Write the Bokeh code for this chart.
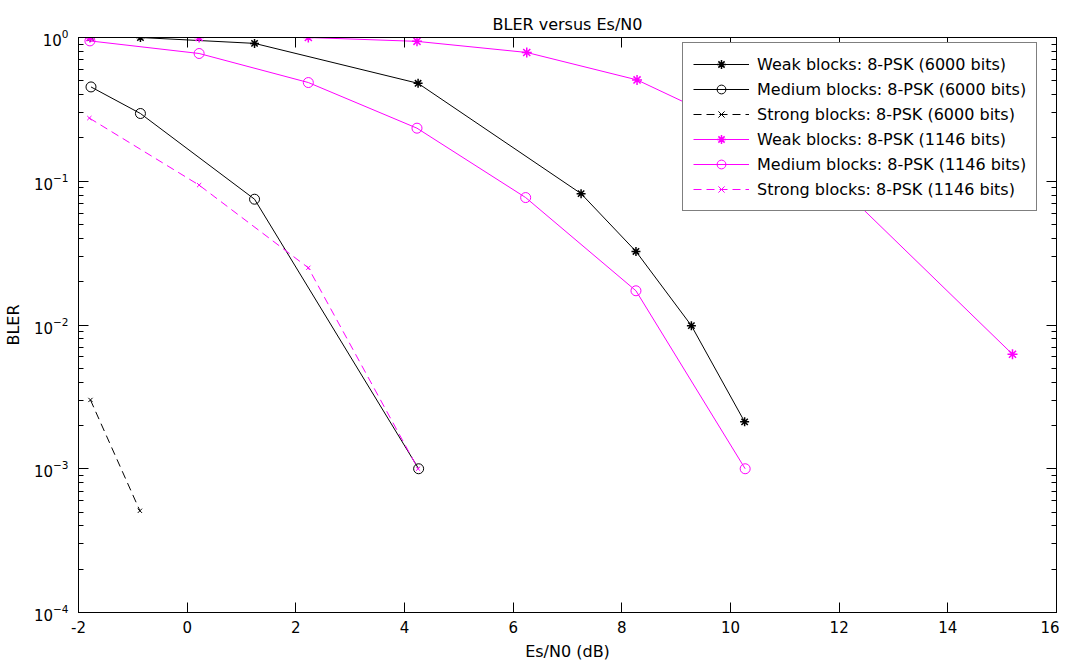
from bokeh.plotting import figure
from bokeh.models import (LinearAxis, LogAxis, SingleIntervalTicker, LogTicker, Legend,
                          LegendItem, CustomJSTickFormatter)
from bokeh.embed import file_html
from bokeh.resources import INLINE

# ---- data ----
x_weak_6000 = [-1.78, -0.86, 1.24, 4.25, 7.25, 8.26, 9.28, 10.26]
y_weak_6000 = [1.0, 1.0, 0.91, 0.48, 0.082, 0.0325, 0.0099, 0.00212]
x_med_6000 = [-1.77, -0.86, 1.24, 4.26]
y_med_6000 = [0.453, 0.296, 0.075, 0.001]
x_str_6000 = [-1.78, -0.87]
y_str_6000 = [0.00301, 0.00051]
x_weak_1146 = [-1.79, 0.22, 2.23, 4.23, 6.25, 8.28, 10.25, 12.25, 15.19]
y_weak_1146 = [1.0, 1.0, 1.0, 0.94, 0.787, 0.507, 0.226, 0.075, 0.00626]
x_med_1146 = [-1.79, 0.22, 2.23, 4.23, 6.23, 8.26, 10.27]
y_med_1146 = [0.947, 0.774, 0.486, 0.234, 0.077, 0.0173, 0.001]
x_str_1146 = [-1.80, 0.22, 2.23, 4.25]
y_str_1146 = [0.275, 0.094, 0.025, 0.001]

labels = [
    "Weak blocks: 8-PSK (6000 bits)",
    "Medium blocks: 8-PSK (6000 bits)",
    "Strong blocks: 8-PSK (6000 bits)",
    "Weak blocks: 8-PSK (1146 bits)",
    "Medium blocks: 8-PSK (1146 bits)",
    "Strong blocks: 8-PSK (1146 bits)",
]

FONT = "DejaVu Sans"
BLACK = "#000000"
MAG = "#ff00ff"

p = figure(
    frame_width=978, frame_height=575,
    x_range=(-2, 16), y_range=(1e-4, 1), y_axis_type="log",
    output_backend="svg", toolbar_location=None,
    title="BLER versus Es/N0",
    min_border_left=76, min_border_right=3, min_border_top=37, min_border_bottom=40,
)
p.background_fill_color = "white"
p.border_fill_color = "white"
p.outline_line_color = "black"
p.outline_line_width = 1
p.xgrid.visible = False
p.ygrid.visible = False

p.title.align = "center"
p.title.text_font = FONT
p.title.text_font_size = "16px"
p.title.text_font_style = "normal"
p.title.text_color = "black"
p.title.standoff = 8

def style_axis(ax, show_labels=True):
    ax.axis_line_color = "black"
    ax.major_tick_in = 10
    ax.major_tick_out = 0
    ax.minor_tick_in = 5
    ax.minor_tick_out = 0
    ax.major_tick_line_color = "black"
    ax.minor_tick_line_color = "black"
    ax.major_label_text_font = FONT
    ax.major_label_text_color = "black"
    ax.major_label_text_font_size = "15px"
    if not show_labels:
        ax.formatter = CustomJSTickFormatter(code="return ''")
        ax.major_label_standoff = 0

xax = p.xaxis[0]
xax.ticker = SingleIntervalTicker(interval=2, num_minor_ticks=0)
style_axis(xax)
xax.formatter = CustomJSTickFormatter(code="return tick.toFixed(0)")
xax.major_label_standoff = 8
xax.axis_label = "Es/N0 (dB)"
xax.axis_label_text_font = FONT
xax.axis_label_text_font_size = "16px"
xax.axis_label_text_font_style = "normal"
xax.axis_label_text_color = "black"
xax.axis_label_standoff = 6

yax = p.yaxis[0]
yax.ticker = LogTicker(num_minor_ticks=10)
style_axis(yax)
yax.major_label_standoff = 10
yax.axis_label = "BLER"
yax.axis_label_text_font = FONT
yax.axis_label_text_font_size = "16px"
yax.axis_label_text_font_style = "normal"
yax.axis_label_text_color = "black"
yax.axis_label_standoff = 8

top = LinearAxis(ticker=SingleIntervalTicker(interval=2, num_minor_ticks=0))
style_axis(top, show_labels=False)
p.add_layout(top, "above")
right = LogAxis(ticker=LogTicker(num_minor_ticks=10))
style_axis(right, show_labels=False)
p.add_layout(right, "right")

items = []

def series(x, y, color, marker, size, dash, label):
    r1 = p.line(x, y, line_color=color, line_width=1, line_dash=dash)
    if marker == "circle":
        r2 = p.scatter(x, y, marker="circle", size=size, line_color=color,
                       fill_color=None, line_width=1)
    else:
        r2 = p.scatter(x, y, marker=marker, size=size, line_color=color,
                       line_width=1.5 if marker == "asterisk" else 1)
    items.append(LegendItem(label=label, renderers=[r1, r2]))

series(x_weak_6000, y_weak_6000, BLACK, "asterisk", 9, "solid", labels[0])
series(x_med_6000, y_med_6000, BLACK, "circle", 10, "solid", labels[1])
series(x_str_6000, y_str_6000, BLACK, "x", 6, "8 5", labels[2])
series(x_weak_1146, y_weak_1146, MAG, "asterisk", 10, "solid", labels[3])
series(x_med_1146, y_med_1146, MAG, "circle", 10, "solid", labels[4])
series(x_str_1146, y_str_1146, MAG, "x", 6, "8 5", labels[5])

legend = Legend(items=items, location=(604, 401))
legend.label_text_font = FONT
legend.label_text_font_size = "16px"
legend.label_text_color = "black"
legend.label_height = 22
legend.glyph_height = 22
legend.glyph_width = 56
legend.label_standoff = 8
legend.spacing = 3
legend.padding = 10
legend.margin = 0
legend.border_line_color = "black"
legend.border_line_width = 1
legend.background_fill_color = "white"
legend.background_fill_alpha = 1
p.add_layout(legend, "center")

open("out.html", "w").write(file_html(p, INLINE))
